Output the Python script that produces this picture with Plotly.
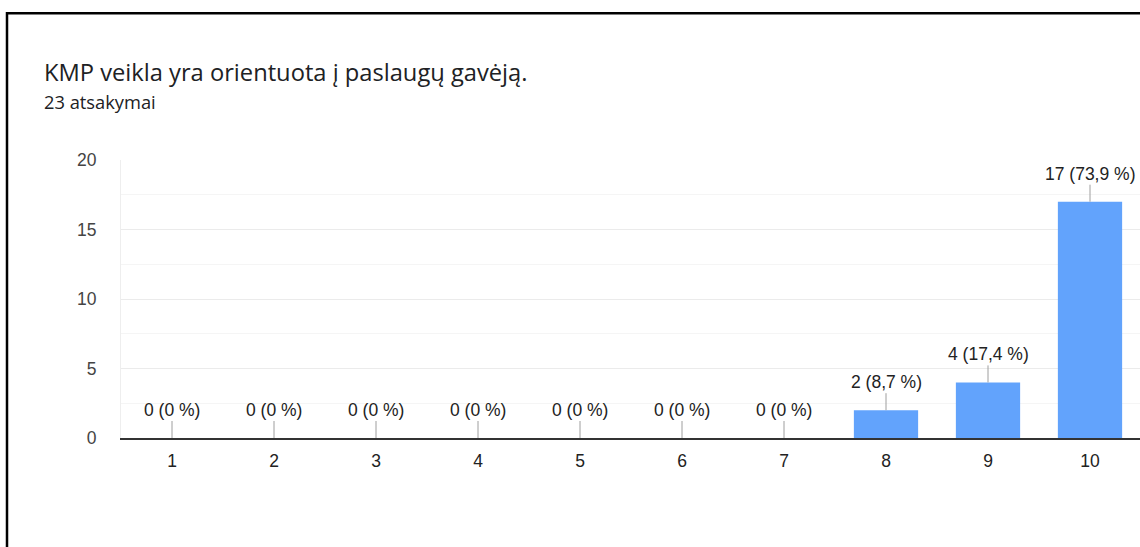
import plotly.graph_objects as go

categories = [1, 2, 3, 4, 5, 6, 7, 8, 9, 10]
counts = [0, 0, 0, 0, 0, 0, 0, 2, 4, 17]
labels = ["0 (0 %)", "0 (0 %)", "0 (0 %)", "0 (0 %)", "0 (0 %)", "0 (0 %)", "0 (0 %)",
          "2 (8,7 %)", "4 (17,4 %)", "17 (73,9 %)"]
y_ticks = [0, 5, 10, 15, 20]
title_text = "KMP veikla yra orientuota į paslaugų gavėją."
subtitle_text = "23 atsakymai"

W, H = 1140, 547
L, R, T, B = 121, 0, 160, 109
pw = W - L - R
ph = H - T - B


def px_x(px):
    return (px - L) / pw


def px_y(py):
    return (H - B - py) / ph


fig = go.Figure()
fig.add_trace(go.Bar(
    x=categories, y=counts, width=0.63,
    marker=dict(color="#62a3fc", line=dict(width=0)),
    hoverinfo="skip",
))

annotations = []
for c, v, lab in zip(categories, counts, labels):
    annotations.append(dict(
        x=c, y=v, xref="x", yref="y", text=lab, showarrow=True,
        ax=0, ay=-17, arrowhead=0, arrowwidth=1, arrowcolor="#9e9e9e",
        xanchor="center", yanchor="bottom", borderpad=0,
        font=dict(family="Liberation Sans, Arial", size=17.5, color="#222222"),
    ))

annotations.append(dict(
    x=px_x(42), y=px_y(72), xref="paper", yref="paper", text=title_text,
    showarrow=False, xanchor="left", yanchor="middle",
    font=dict(family="Open Sans", size=23.7, color="#202124"),
))
annotations.append(dict(
    x=px_x(42), y=px_y(101), xref="paper", yref="paper", text=subtitle_text,
    showarrow=False, xanchor="left", yanchor="middle",
    font=dict(family="Open Sans", size=18.3, color="#202124"),
))

fig.update_layout(
    width=W, height=H,
    margin=dict(l=L, r=R, t=T, b=B, pad=0),
    paper_bgcolor="white", plot_bgcolor="white",
    showlegend=False,
    annotations=annotations,
    shapes=[dict(
        type="rect", xref="paper", yref="paper",
        x0=px_x(7), x1=px_x(1200), y0=px_y(600), y1=px_y(13.3),
        line=dict(color="black", width=2.5), fillcolor="rgba(0,0,0,0)",
        layer="above",
    )],
)

fig.update_xaxes(
    range=[0.5, 0.5 + pw / 102.0],
    tickmode="array", tickvals=categories, ticktext=[str(c) for c in categories],
    showgrid=False, zeroline=False,
    showline=True, linecolor="#333333", linewidth=1.5,
    ticks="", ticklabelstandoff=6,
    tickfont=dict(family="Liberation Sans, Arial", size=17.5, color="#222222"),
)
fig.update_yaxes(
    range=[0, 20],
    tickmode="array", tickvals=y_ticks, ticktext=[str(t) for t in y_ticks],
    showgrid=True, gridcolor="#ebebeb", gridwidth=1,
    minor=dict(tickmode="linear", tick0=0, dtick=2.5, showgrid=True, gridcolor="#f5f5f5", gridwidth=1),
    zeroline=False,
    showline=True, linecolor="#eeeeee", linewidth=1,
    ticks="", ticklabelstandoff=20,
    tickfont=dict(family="Liberation Sans, Arial", size=17.5, color="#444444"),
)

fig.write_html(
    "out.html",
    config={"displayModeBar": False},
    post_script="document.body.style.margin='0';document.body.style.overflow='hidden';",
)
